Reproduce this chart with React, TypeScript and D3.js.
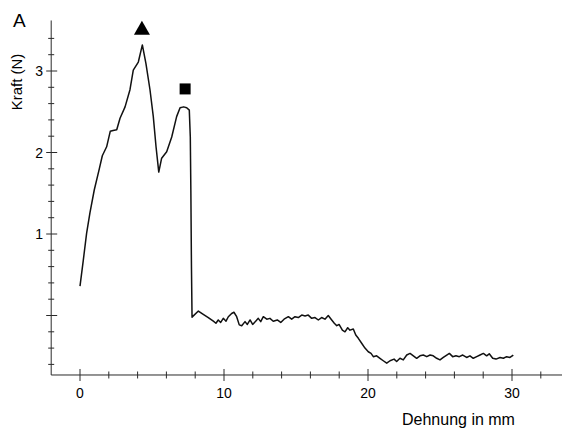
import React, { useEffect, useRef } from 'react';
import * as d3 from 'd3';

// Dehnung (mm) and Kraft (N)
const dehnung = [
  0.0, 0.23, 0.46, 0.69, 0.99, 1.34, 1.55, 1.85, 2.1, 2.3, 2.55, 2.78, 3.13, 3.47, 3.7, 4.05, 4.33,
  4.58, 4.86, 5.09, 5.28, 5.47, 5.67, 6.02, 6.37, 6.71, 6.95, 7.2, 7.41, 7.59, 7.66, 7.7, 7.74, 7.78,
  8.22, 8.56, 8.91, 9.26, 9.44, 9.6, 9.77, 9.95, 10.14, 10.3, 10.53, 10.69, 10.88, 11.06, 11.23,
  11.46, 11.62, 11.81, 11.99, 12.2, 12.38, 12.55, 12.73, 12.97, 13.19, 13.42, 13.7, 13.94, 14.17,
  14.47, 14.7, 14.93, 15.16, 15.4, 15.63, 15.85, 16.09, 16.32, 16.55, 16.78, 17.01, 17.24, 17.48,
  17.66, 17.83, 17.99, 18.22, 18.4, 18.59, 18.75, 18.98, 19.15, 19.33, 19.56, 19.79, 20.02, 20.21,
  20.37, 20.6, 20.83, 21.06, 21.3, 21.53, 21.81, 21.99, 22.22, 22.45, 22.69, 22.92, 23.15, 23.38,
  23.61, 23.84, 24.08, 24.31, 24.53, 24.77, 25.0, 25.23, 25.47, 25.65, 25.88, 26.11, 26.34, 26.58,
  26.85, 27.08, 27.31, 27.55, 27.78, 28.01, 28.24, 28.42, 28.66, 28.89, 29.17, 29.4, 29.63, 29.86,
  30.09,
];
const kraft = [
  0.36, 0.68, 1.01, 1.26, 1.54, 1.8, 1.96, 2.07, 2.26, 2.27, 2.28, 2.42, 2.56, 2.77, 3.01, 3.11, 3.32,
  3.09, 2.77, 2.44, 2.07, 1.76, 1.93, 2.01, 2.19, 2.44, 2.55, 2.56, 2.55, 2.52, 2.19, 1.5, 0.6, -0.02,
  0.055, 0.015, -0.025, -0.07, -0.095, -0.055, -0.085, -0.035, -0.07, -0.015, 0.025, 0.04, -0.015,
  -0.115, -0.125, -0.075, -0.11, -0.055, -0.11, -0.07, -0.035, -0.075, -0.015, -0.045, -0.035, -0.07,
  -0.055, -0.085, -0.045, -0.015, -0.045, -0.015, -0.025, 0.005, -0.005, 0.005, -0.035, -0.025,
  -0.055, -0.025, -0.045, 0.0, -0.055, -0.095, -0.125, -0.11, -0.18, -0.2, -0.15, -0.18, -0.165,
  -0.24, -0.28, -0.34, -0.4, -0.445, -0.465, -0.505, -0.495, -0.525, -0.555, -0.585, -0.555, -0.535,
  -0.565, -0.525, -0.545, -0.485, -0.465, -0.495, -0.525, -0.495, -0.485, -0.505, -0.485, -0.495,
  -0.525, -0.545, -0.515, -0.485, -0.465, -0.505, -0.495, -0.505, -0.485, -0.515, -0.495, -0.525,
  -0.505, -0.485, -0.465, -0.495, -0.47, -0.525, -0.535, -0.515, -0.525, -0.505, -0.515, -0.485,
];

const xTickLabels = [0, 10, 20, 30];
const yTickLabels = [1, 2, 3];
// peak markers: triangle at the first maximum, square at the second
const markerX = [4.3, 7.3];
const markerY = [3.53, 2.78];
const markerShape = ['triangle', 'square'];

export default function App() {
  const ref = useRef<SVGSVGElement>(null);

  useEffect(() => {
    draw();
    // eslint-disable-next-line react-hooks/exhaustive-deps
  }, []);

  function draw() {
    const svg = d3.select(ref.current);
    svg.selectAll('*').remove();
    const font = '"Liberation Sans", Arial, sans-serif';

    const xScale = d3.scaleLinear().domain([0, 30]).range([80, 512]);
    const yScale = d3.scaleLinear().domain([0, 3]).range([315.5, 71]);
    const x0 = xScale(-2);
    const yAxisPos = yScale(-0.73);

    const axes = svg.append('g').attr('stroke', '#2a2a2a').attr('stroke-width', 1);
    // y axis line and ticks
    axes.append('line').attr('x1', x0).attr('x2', x0).attr('y1', yScale(3.62)).attr('y2', yAxisPos);
    const yTicks = d3.range(-3, 18).map((i) => i * 0.2);
    axes
      .selectAll('.ytick')
      .data(yTicks)
      .join('line')
      .attr('class', 'ytick')
      .attr('x1', (d) => (Math.abs(d - Math.round(d)) < 1e-6 ? x0 - 5 : x0 - 3))
      .attr('x2', (d) => (Math.abs(d - Math.round(d)) < 1e-6 ? x0 + 6 : x0 + 3))
      .attr('y1', (d) => yScale(d))
      .attr('y2', (d) => yScale(d));

    // x axis line and ticks
    axes.append('line').attr('x1', x0).attr('x2', 562).attr('y1', yAxisPos).attr('y2', yAxisPos);
    const xTicks = d3.range(0, 17).map((i) => i * 2);
    axes
      .selectAll('.xtick')
      .data(xTicks)
      .join('line')
      .attr('class', 'xtick')
      .attr('x1', (d) => xScale(d))
      .attr('x2', (d) => xScale(d))
      .attr('y1', (d) => (d % 10 === 0 ? yAxisPos - 6 : yAxisPos - 3.5))
      .attr('y2', (d) => (d % 10 === 0 ? yAxisPos + 6 : yAxisPos + 3.5));

    // tick labels
    svg
      .selectAll('.xlabel')
      .data(xTickLabels)
      .join('text')
      .attr('class', 'xlabel')
      .attr('x', (d) => xScale(d))
      .attr('y', 398)
      .attr('text-anchor', 'middle')
      .attr('font-family', font)
      .attr('font-size', 14)
      .text((d) => d);
    svg
      .selectAll('.ylabel')
      .data(yTickLabels)
      .join('text')
      .attr('class', 'ylabel')
      .attr('x', 43)
      .attr('y', (d) => yScale(d) + 5)
      .attr('text-anchor', 'end')
      .attr('font-family', font)
      .attr('font-size', 14)
      .text((d) => d);

    // titles
    svg
      .append('text')
      .attr('x', 13)
      .attr('y', 27)
      .attr('font-family', font)
      .attr('font-size', 19)
      .text('A');
    svg
      .append('text')
      .attr('transform', 'translate(22, 82) rotate(-90)')
      .attr('text-anchor', 'middle')
      .attr('font-family', font)
      .attr('font-size', 15)
      .text('Kraft (N)');
    svg
      .append('text')
      .attr('x', 402)
      .attr('y', 425)
      .attr('font-family', font)
      .attr('font-size', 16)
      .text('Dehnung in mm');

    // curve
    const points = dehnung.map((d, i) => [d, kraft[i]] as [number, number]);
    const line = d3
      .line<[number, number]>()
      .x((d) => xScale(d[0]))
      .y((d) => yScale(d[1]));
    svg
      .append('path')
      .attr('d', line(points))
      .attr('fill', 'none')
      .attr('stroke', '#111')
      .attr('stroke-width', 1.5)
      .attr('stroke-linejoin', 'round');

    // markers
    markerX.forEach((mx, i) => {
      const cx = xScale(mx);
      const cy = yScale(markerY[i]);
      if (markerShape[i] === 'triangle') {
        svg
          .append('path')
          .attr('d', `M${cx},${cy - 7}L${cx + 8},${cy + 7}L${cx - 8},${cy + 7}Z`)
          .attr('fill', '#000');
      } else {
        svg
          .append('rect')
          .attr('x', cx - 5.5)
          .attr('y', cy - 5.5)
          .attr('width', 11)
          .attr('height', 11)
          .attr('fill', '#000');
      }
    });
  }

  return (
    <svg
      ref={ref}
      width={562}
      height={429}
      style={{ position: 'absolute', left: 0, top: 0, background: '#fff' }}
    />
  );
}
